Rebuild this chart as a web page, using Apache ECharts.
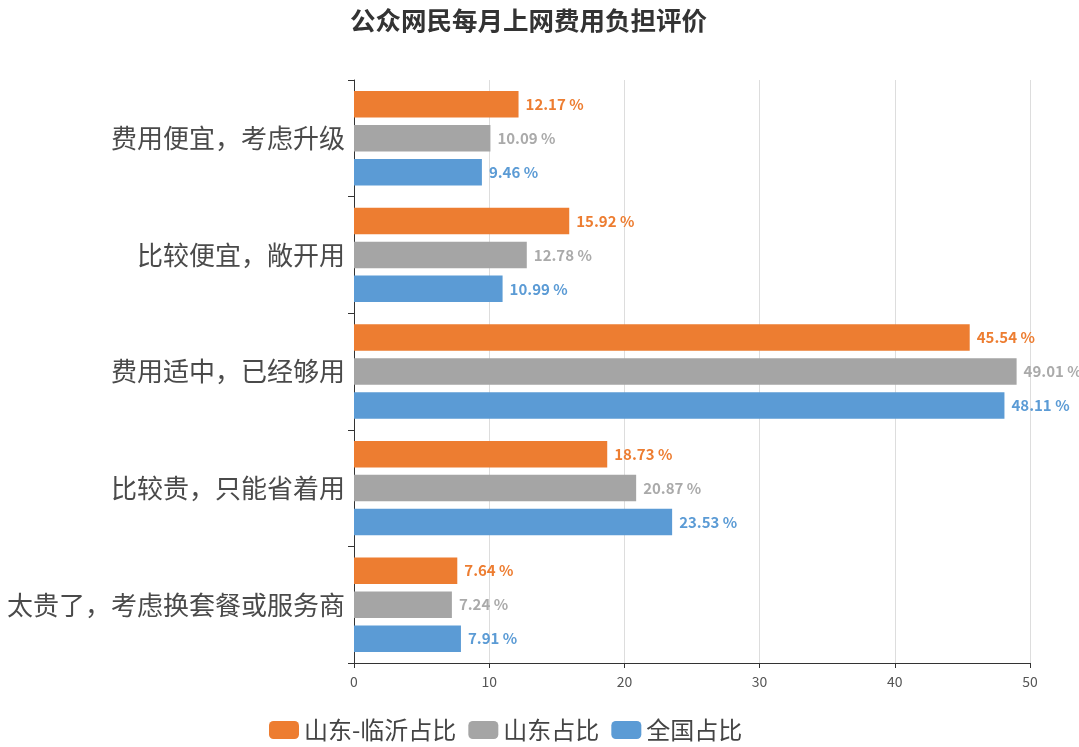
<!DOCTYPE html>
<html>
<head>
<meta charset="utf-8">
<script src="https://cdn.jsdelivr.net/npm/echarts@6/dist/echarts.min.js"></script>
<style>
  html, body { margin: 0; padding: 0; background: #fff; }
  #main { width: 1079px; height: 747px; }
</style>
</head>
<body>
<div id="main"></div>
<script>
const categories = ['费用便宜，考虑升级', '比较便宜，敞开用', '费用适中，已经够用', '比较贵，只能省着用', '太贵了，考虑换套餐或服务商']
const linyi = [12.17, 15.92, 45.54, 18.73, 7.64]
const shandong = [10.09, 12.78, 49.01, 20.87, 7.24]
const national = [9.46, 10.99, 48.11, 23.53, 7.91]
const seriesNames = ['山东-临沂占比', '山东占比', '全国占比']
const colors = ['#ED7D31', '#A5A5A5', '#5B9BD5']
const labelColors = ['#ED7D31', '#AAAAAA', '#5B9BD5']

let myChart = echarts.init(document.getElementById('main'))
let font = '"Noto Sans CJK SC", "Open Sans", sans-serif'

let option = {
  textStyle: { fontFamily: font },
  title: {
    text: '公众网民每月上网费用负担评价',
    left: 345,
    top: 3,
    textStyle: { fontSize: 25.5, fontWeight: 'bold', color: '#333', fontFamily: font }
  },
  legend: {
    bottom: 0,
    left: 264,
    itemWidth: 30,
    itemHeight: 18,
    itemGap: 12,
    icon: 'roundRect',
    textStyle: { fontSize: 24, color: '#444', fontFamily: font },
    data: seriesNames
  },
  grid: { left: 354, right: 49, top: 80, bottom: 84 },
  xAxis: {
    type: 'value',
    min: 0,
    max: 50,
    interval: 10,
    axisLine: { show: true, lineStyle: { color: '#333' } },
    axisTick: { show: true, lineStyle: { color: '#333' } },
    axisLabel: { color: '#555', fontSize: 14, margin: 12, fontFamily: font },
    splitLine: { show: true, lineStyle: { color: '#ddd' } }
  },
  yAxis: {
    type: 'category',
    inverse: true,
    data: categories,
    axisLine: { show: true, lineStyle: { color: '#333' } },
    axisTick: { show: true, length: 6, lineStyle: { color: '#333' } },
    axisLabel: { color: '#4a4a4a', fontSize: 26, margin: 9, fontFamily: font }
  },
  series: [linyi, shandong, national].map(function (item, index) {
    return {
      name: seriesNames[index],
      type: 'bar',
      data: item,
      barGap: '28%',
      barCategoryGap: '19%',
      itemStyle: { color: colors[index] },
      label: {
        show: true,
        position: 'right',
        distance: 7,
        formatter: '{c} %',
        color: labelColors[index],
        fontSize: 15,
        fontWeight: 'bold',
        fontFamily: font
      }
    }
  })
}
myChart.setOption(option, true)
</script>
</body>
</html>
